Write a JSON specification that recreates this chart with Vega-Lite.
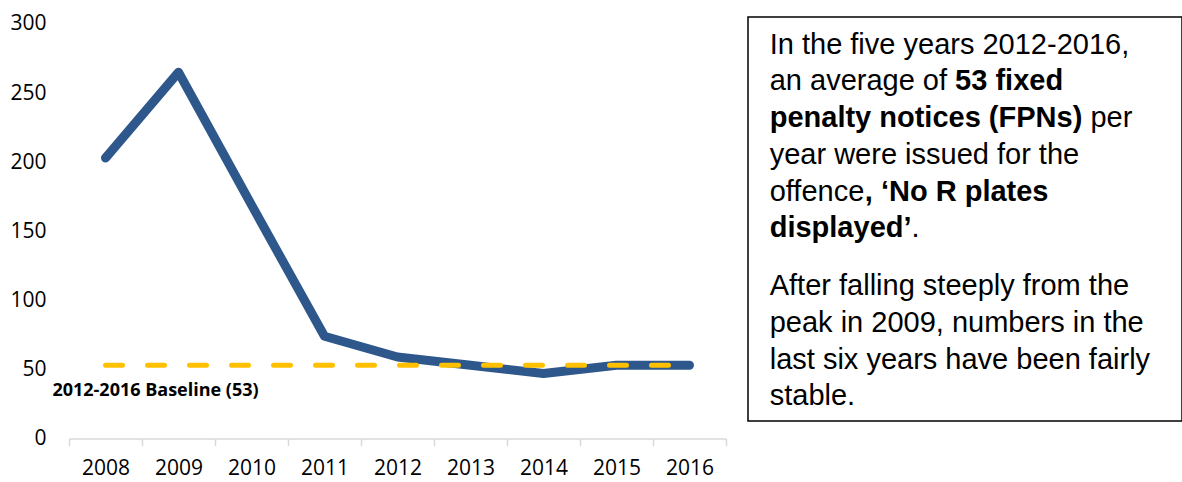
{
  "$schema": "https://vega.github.io/schema/vega-lite/v6.json",
  "padding": {"left": 9, "top": 12, "right": 0, "bottom": 4},
  "background": "white",
  "spacing": 20,
  "config": {"view": {"stroke": null}, "font": "Open Sans"},
  "datasets": {
    "series": [
      {"year": "2008", "fpn": 203, "baseline": 53},
      {"year": "2009", "fpn": 265, "baseline": 53},
      {"year": "2010", "fpn": 169, "baseline": 53},
      {"year": "2011", "fpn": 74, "baseline": 53},
      {"year": "2012", "fpn": 59, "baseline": 53},
      {"year": "2013", "fpn": 53, "baseline": 53},
      {"year": "2014", "fpn": 47, "baseline": 53},
      {"year": "2015", "fpn": 53, "baseline": 53},
      {"year": "2016", "fpn": 53, "baseline": 53}
    ],
    "labels": [
      {"label": "2012-2016 Baseline (53)"}
    ],
    "notes": [
      {"line": 1, "kind": "n", "text": "In the five years 2012-2016,"},
      {"line": 2, "kind": "n", "text": "an average of "},
      {"line": 2, "kind": "b2", "text": "53 fixed"},
      {"line": 3, "kind": "b", "text": "penalty notices (FPNs)"},
      {"line": 3, "kind": "n3", "text": "per"},
      {"line": 4, "kind": "n", "text": "year were issued for the"},
      {"line": 5, "kind": "n", "text": "offence"},
      {"line": 5, "kind": "b5", "text": ", ‘No R plates"},
      {"line": 6, "kind": "b", "text": "displayed’"},
      {"line": 6, "kind": "n6", "text": "."},
      {"line": 7, "kind": "p2", "text": "After falling steeply from the"},
      {"line": 8, "kind": "p2", "text": "peak in 2009, numbers in the"},
      {"line": 9, "kind": "p2", "text": "last six years have been fairly"},
      {"line": 10, "kind": "p2", "text": "stable."}
    ]
  },
  "hconcat": [
    {
      "width": 657,
      "height": 421.5,
      "encoding": {
        "x": {
          "field": "year",
          "type": "ordinal",
          "scale": {"paddingInner": 0, "paddingOuter": 0},
          "axis": {
            "title": null,
            "labelAngle": 0,
            "grid": false,
            "domainColor": "#d9d9d9",
            "domainWidth": 1.5,
            "tickColor": "#d9d9d9",
            "tickWidth": 1.5,
            "tickSize": 7,
            "tickBand": "extent",
            "labelPadding": 12,
            "labelFontSize": 21,
            "labelFont": "Open Sans",
            "labelColor": "#000000"
          }
        }
      },
      "layer": [
        {
          "data": {"name": "series"},
          "mark": {"type": "line", "color": "#2E588C", "strokeWidth": 9, "strokeCap": "round", "strokeJoin": "round"},
          "encoding": {
            "y": {
              "field": "fpn",
              "type": "quantitative",
              "scale": {"domain": [0, 305], "nice": false},
              "axis": {
                "title": null,
                "values": [0, 50, 100, 150, 200, 250, 300],
                "grid": false,
                "domain": false,
                "ticks": false,
                "labelPadding": 23,
                "labelFontSize": 21,
                "labelFont": "Open Sans",
                "labelColor": "#000000"
              }
            }
          }
        },
        {
          "data": {"name": "series"},
          "mark": {"type": "line", "color": "#FFC000", "strokeWidth": 5, "strokeDash": [17, 25], "strokeCap": "round"},
          "encoding": {
            "y": {"field": "baseline", "type": "quantitative"}
          }
        },
        {
          "data": {"name": "labels"},
          "mark": {"type": "text", "font": "Open Sans", "fontWeight": "bold", "fontSize": 18, "color": "#000000", "align": "center", "baseline": "middle", "dx": -23, "dy": 26},
          "encoding": {
            "x": {"datum": "2009"},
            "y": {"datum": 53, "type": "quantitative"},
            "text": {"field": "label"}
          }
        }
      ]
    },
    {
      "width": 434,
      "height": 404,
      "view": {"stroke": "#000000", "strokeWidth": 1.5},
      "data": {"name": "notes"},
      "encoding": {
        "x": {"datum": 0.05, "type": "quantitative", "scale": {"domain": [0, 1], "nice": false, "zero": false}, "axis": null},
        "y": {"field": "line", "type": "ordinal", "scale": {"type": "point", "padding": 1.09}, "axis": null},
        "text": {"field": "text"}
      },
      "layer": [
        {
          "transform": [{"filter": "datum.kind === 'n'"}],
          "mark": {"type": "text", "align": "left", "baseline": "alphabetic", "font": "Liberation Sans", "fontSize": 29, "color": "#000000"}
        },
        {
          "transform": [{"filter": "datum.kind === 'b'"}],
          "mark": {"type": "text", "align": "left", "baseline": "alphabetic", "font": "Liberation Sans", "fontWeight": "bold", "fontSize": 29, "color": "#000000"}
        },
        {
          "transform": [{"filter": "datum.kind === 'b2'"}],
          "mark": {"type": "text", "align": "left", "baseline": "alphabetic", "font": "Liberation Sans", "fontWeight": "bold", "fontSize": 29, "color": "#000000", "dx": 185.4}
        },
        {
          "transform": [{"filter": "datum.kind === 'n3'"}],
          "mark": {"type": "text", "align": "left", "baseline": "alphabetic", "font": "Liberation Sans", "fontSize": 29, "color": "#000000", "dx": 320.7}
        },
        {
          "transform": [{"filter": "datum.kind === 'b5'"}],
          "mark": {"type": "text", "align": "left", "baseline": "alphabetic", "font": "Liberation Sans", "fontWeight": "bold", "fontSize": 29, "color": "#000000", "dx": 95.1}
        },
        {
          "transform": [{"filter": "datum.kind === 'n6'"}],
          "mark": {"type": "text", "align": "left", "baseline": "alphabetic", "font": "Liberation Sans", "fontSize": 29, "color": "#000000", "dx": 141.8}
        },
        {
          "transform": [{"filter": "datum.kind === 'p2'"}],
          "mark": {"type": "text", "align": "left", "baseline": "alphabetic", "font": "Liberation Sans", "fontSize": 29, "color": "#000000", "dy": 21}
        }
      ]
    }
  ]
}
